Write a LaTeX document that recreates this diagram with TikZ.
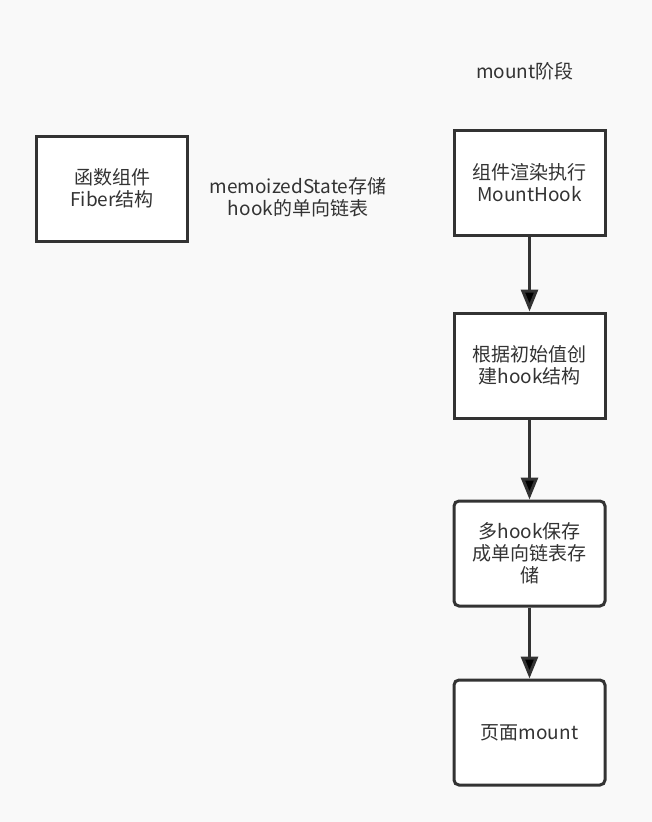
\documentclass[tikz,border=0pt]{standalone}
\usepackage{fontspec}
\newfontfamily\cjk{Noto Sans CJK SC}
\usepackage{xcolor}
\usetikzlibrary{arrows.meta}

\definecolor{ink}{HTML}{333333}
\definecolor{paper}{HTML}{F9F9F9}

\begin{document}
\begin{tikzpicture}[x=1pt, y=-1pt, node distance=183pt,
    font=\cjk\fontsize{19}{22}\selectfont, text=ink,
    box/.style={draw=ink, line width=3pt, fill=white, align=center,
                minimum width=151pt, minimum height=105pt},
    roundbox/.style={box, rounded corners=5pt},
    flow/.style={draw=ink, line width=3pt, -{Triangle[length=22pt,width=17pt]}}]
  \fill[paper] (0,0) rectangle (652,822);
  \useasboundingbox (0,0) rectangle (652,822);

  \node (title) at (525,71) {mount阶段};
  \node[box] (fiber) at (112,188.5) {函数组件\\Fiber结构};
  \node[align=center] (memo) at (298,197) {memoizedState存储\\hook的单向链表};

  \node[box]      (render) at (529.5,182.5)          {组件渲染执行\\MountHook};
  \node[box]      (create) [below of=render]         {根据初始值创\\建hook结构};
  \node[roundbox] (list)   [below of=create, node distance=188pt] {多hook保存\\成单向链表存\\储};
  \node[roundbox] (page)   [below of=list, node distance=179pt]   {页面mount};

  \path[flow] (render) edge (create)
              (create) edge (list)
              (list)   edge (page);
\end{tikzpicture}
\end{document}
